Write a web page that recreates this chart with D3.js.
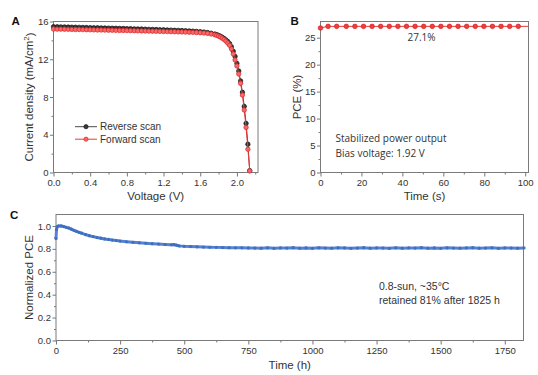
<!DOCTYPE html>
<html>
<head>
<meta charset="utf-8">
<script src="https://cdn.jsdelivr.net/npm/d3@7"></script>
<style>
  body { margin: 0; background: #fff; }
  svg { display: block; font-family: "Liberation Sans", Arial, sans-serif; }
  .tick text { fill: #333; font-size: 9.5px; }
  .tick line { stroke: #777; }
  .axis-title { fill: #333; font-size: 11.5px; }
  .panel-label { fill: #111; font-size: 11.5px; font-weight: bold; }
</style>
</head>
<body>
<div id="chart"></div>
<script>
// A: J-V curves
const voltage = [0.00,0.04,0.08,0.12,0.16,0.20,0.24,0.28,0.32,0.36,0.40,0.44,0.48,0.52,0.56,0.60,0.64,0.68,0.72,0.76,
  0.80,0.84,0.88,0.92,0.96,1.00,1.04,1.08,1.12,1.16,1.20,1.24,1.28,1.32,1.36,1.40,1.44,1.48,1.52,1.56,1.60,1.64,1.68,1.72,1.76,
  1.78,1.80,1.82,1.84,1.86,1.88,1.90,1.92,1.94,1.96,1.98,2.00,2.02,2.04,2.06,2.08,2.10,2.12,2.14];
const jReverse = [15.45,15.44,15.43,15.42,15.41,15.40,15.39,15.38,15.37,15.36,
  15.35,15.34,15.33,15.32,15.31,15.30,15.29,15.28,15.27,15.26,
  15.25,15.24,15.22,15.21,15.20,15.19,15.17,15.16,15.15,15.13,
  15.12,15.10,15.09,15.07,15.06,15.04,15.02,15.00,14.98,14.95,
  14.92,14.88,14.83,14.76,14.67,
  14.61,14.53,14.44,14.33,14.20,14.05,13.88,13.66,13.32,12.85,
  12.30,11.55,10.75,9.70,8.50,7.00,5.20,3.00,0.20];
const jForward = [15.20,15.19,15.19,15.18,15.17,15.16,15.15,15.15,15.14,15.13,
  15.12,15.11,15.10,15.10,15.09,15.08,15.07,15.06,15.05,15.05,
  15.04,15.03,15.02,15.01,15.00,14.99,14.98,14.97,14.96,14.95,
  14.94,14.93,14.92,14.91,14.90,14.89,14.88,14.86,14.85,14.83,
  14.81,14.78,14.74,14.68,14.59,
  14.53,14.45,14.35,14.23,14.09,13.92,13.72,13.48,13.10,12.57,
  11.93,11.29,10.44,9.45,8.21,6.62,4.78,2.47,0.17];
const scanNames = ["Reverse scan", "Forward scan"];

// B: stabilized power output
const spoTime = [0,3.7,7.9,12.6,16.8,21.0,25.2,29.4,33.6,37.8,42.0,46.2,50.4,54.6,58.8,63.0,67.2,71.4,75.6,79.8,84.0,88.2,92.4,96.6,101.6];
const spoPCE = [26.8,27.1,27.1,27.1,27.1,27.1,27.1,27.1,27.1,27.1,27.1,27.1,27.1,27.1,27.1,27.1,27.1,27.1,27.1,27.1,27.1,27.1,27.1,27.1,27.1];

// C: long-term operation
const agingTime = [0,2,5,10,20,30,40,50,60,70,80,90,100,115,130,145,160,175,190,205,
  220,235,250,275,300,325,350,375,400,425,450,460,470,480,500,525,550,575,600,625,
  650,675,700,725,750,775,800,825,850,875,900,925,950,975,1000,1025,1050,1075,1100,1125,
  1150,1175,1200,1225,1250,1275,1300,1325,1350,1375,1400,1425,1450,1475,1500,1525,1550,1575,1600,1625,
  1650,1675,1700,1725,1750,1775,1800,1825];
const agingPCE = [0.89,0.97,0.995,1.0,1.0,0.995,0.988,0.982,0.972,0.962,0.953,0.944,0.937,0.925,0.915,0.907,0.899,0.893,0.887,0.882,
  0.877,0.873,0.868,0.862,0.857,0.853,0.849,0.845,0.842,0.838,0.835,0.837,0.832,0.826,0.822,0.820,0.818,0.816,0.814,0.813,
  0.811,0.810,0.809,0.809,0.808,0.807,0.806,0.809,0.805,0.808,0.807,0.810,0.806,0.808,0.805,0.809,0.807,0.806,0.809,0.808,
  0.805,0.807,0.810,0.806,0.808,0.807,0.805,0.809,0.806,0.808,0.807,0.810,0.806,0.808,0.805,0.809,0.807,0.806,0.808,0.810,
  0.806,0.807,0.809,0.805,0.808,0.807,0.806,0.808];

const svg = d3.select("#chart").append("svg")
  .attr("width", 538)
  .attr("height", 375);

// draws frame + axes with major and minor ticks, returns scales
function makePanel(box, xDomain, yDomain, xMajor, xMinor, yMajor, yMinor, xFmt, yFmt) {
  const x = d3.scaleLinear().domain(xDomain).range([box.x0, box.x1]);
  const y = d3.scaleLinear().domain(yDomain).range([box.y1, box.y0]);

  const g = svg.append("g");
  g.append("g")
    .attr("transform", `translate(0,${box.y1})`)
    .call(d3.axisBottom(x).tickValues(xMinor).tickSize(2).tickFormat(""))
    .call(a => a.select(".domain").remove());
  g.append("g")
    .attr("transform", `translate(0,${box.y1})`)
    .call(d3.axisBottom(x).tickValues(xMajor).tickSize(4).tickPadding(2.5).tickFormat(xFmt))
    .call(a => a.select(".domain").remove());
  g.append("g")
    .attr("transform", `translate(${box.x0},0)`)
    .call(d3.axisLeft(y).tickValues(yMinor).tickSize(2).tickFormat(""))
    .call(a => a.select(".domain").remove());
  g.append("g")
    .attr("transform", `translate(${box.x0},0)`)
    .call(d3.axisLeft(y).tickValues(yMajor).tickSize(3.5).tickPadding(1.5).tickFormat(yFmt))
    .call(a => a.select(".domain").remove());

  g.append("rect")
    .attr("x", box.x0).attr("y", box.y0)
    .attr("width", box.x1 - box.x0).attr("height", box.y1 - box.y0)
    .attr("fill", "none").attr("stroke", "#7a7a7a").attr("stroke-width", 1);
  return { x, y, g };
}

// ---------- A ----------
const boxA = { x0: 53.5, x1: 258, y0: 21.5, y1: 172.5 };
const pA = makePanel(boxA, [0, 2.23], [0, 16],
  [0, 0.4, 0.8, 1.2, 1.6, 2.0], [0.2, 0.6, 1.0, 1.4, 1.8, 2.2],
  [0, 4, 8, 12, 16], [2, 6, 10, 14],
  d3.format(".1f"), d3.format("d"));

const jvSeries = [
  { name: scanNames[0], values: jReverse, line: "#4a4a4a", fill: "#3a3a3a", stroke: "#111" },
  { name: scanNames[1], values: jForward, line: "#e8393a", fill: "#f46a6a", stroke: "#dc2427" }
];
jvSeries.forEach(s => {
  const pts = voltage.map((v, i) => ({ v, j: s.values[i] }));
  pA.g.append("path")
    .datum(pts)
    .attr("fill", "none")
    .attr("stroke", s.line)
    .attr("stroke-width", 1)
    .attr("d", d3.line().x(d => pA.x(d.v)).y(d => pA.y(d.j)));
  pA.g.selectAll(null)
    .data(pts)
    .join("circle")
    .attr("cx", d => pA.x(d.v))
    .attr("cy", d => pA.y(d.j))
    .attr("r", 2.2)
    .attr("fill", s.fill)
    .attr("stroke", s.stroke)
    .attr("stroke-width", 0.7);
});

// legend
jvSeries.forEach((s, i) => {
  const ly = 126.7 + i * 12.5;
  pA.g.append("line")
    .attr("x1", 75).attr("x2", 97).attr("y1", ly).attr("y2", ly)
    .attr("stroke", s.line).attr("stroke-width", 1);
  pA.g.append("circle")
    .attr("cx", 86).attr("cy", ly).attr("r", 2.1)
    .attr("fill", s.fill).attr("stroke", s.stroke).attr("stroke-width", 0.7);
  pA.g.append("text")
    .attr("x", 100).attr("y", ly).attr("dy", "0.35em")
    .attr("fill", "#333").attr("font-size", "10px")
    .text(s.name);
});

svg.append("text").attr("class", "axis-title")
  .attr("x", (boxA.x0 + boxA.x1) / 2).attr("y", 199.5)
  .attr("text-anchor", "middle").text("Voltage (V)");
const yTitleA = svg.append("text").attr("class", "axis-title")
  .attr("transform", `translate(32.5,${(boxA.y0 + boxA.y1) / 2}) rotate(-90)`)
  .attr("text-anchor", "middle");
yTitleA.append("tspan").text("Current density (mA/cm");
yTitleA.append("tspan").attr("dy", "-0.4em").attr("font-size", "8px").text("2");
yTitleA.append("tspan").attr("dy", "0.4em").text(")");
svg.append("text").attr("class", "panel-label").attr("x", 11.5).attr("y", 25).text("A");

// ---------- B ----------
const boxB = { x0: 320.5, x1: 528.5, y0: 21.5, y1: 172.5 };
const pB = makePanel(boxB, [0, 101.6], [0, 28],
  [0, 20, 40, 60, 80, 100], [10, 30, 50, 70, 90],
  [0, 5, 10, 15, 20, 25], [2.5, 7.5, 12.5, 17.5, 22.5],
  d3.format("d"), d3.format("d"));

const spo = spoTime.map((t, i) => ({ t, p: spoPCE[i] }));
pB.g.append("path")
  .datum(spo)
  .attr("fill", "none")
  .attr("stroke", "#e8393a")
  .attr("stroke-width", 1)
  .attr("d", d3.line().x(d => pB.x(d.t)).y(d => pB.y(d.p)));
pB.g.selectAll(null)
  .data(spo.slice(0, spo.length - 1))
  .join("circle")
  .attr("cx", d => pB.x(d.t))
  .attr("cy", d => pB.y(d.p))
  .attr("r", 2.3)
  .attr("fill", "#ef3e3e")
  .attr("stroke", "#d81f22")
  .attr("stroke-width", 0.7);

pB.g.append("text")
  .attr("x", 421.5).attr("y", 37.5).attr("dy", "0.35em")
  .attr("text-anchor", "middle")
  .attr("fill", "#333").attr("font-size", "10px")
  .attr("font-family", "'Open Sans', sans-serif")
  .text("27.1%");
pB.g.append("text")
  .attr("x", 335.5).attr("y", 138.3).attr("dy", "0.35em")
  .attr("fill", "#333").attr("font-size", "10px")
  .attr("font-family", "'Open Sans', sans-serif")
  .text("Stabilized power output");
pB.g.append("text")
  .attr("x", 335.5).attr("y", 153.3).attr("dy", "0.35em")
  .attr("fill", "#333").attr("font-size", "10px")
  .attr("font-family", "'Open Sans', sans-serif")
  .text("Bias voltage: 1.92 V");

svg.append("text").attr("class", "axis-title")
  .attr("x", (boxB.x0 + boxB.x1) / 2).attr("y", 199.5)
  .attr("text-anchor", "middle").text("Time (s)");
svg.append("text").attr("class", "axis-title")
  .attr("transform", `translate(300.5,${(boxB.y0 + boxB.y1) / 2}) rotate(-90)`)
  .attr("text-anchor", "middle").text("PCE (%)");
svg.append("text").attr("class", "panel-label").attr("x", 290.5).attr("y", 25).text("B");

// ---------- C ----------
const boxC = { x0: 56, x1: 523.5, y0: 214.5, y1: 340.5 };
const pC = makePanel(boxC, [0, 1823], [0, 1.1],
  [0, 250, 500, 750, 1000, 1250, 1500, 1750], [125, 375, 625, 875, 1125, 1375, 1625],
  [0, 0.2, 0.4, 0.6, 0.8, 1.0], [0.1, 0.3, 0.5, 0.7, 0.9],
  d3.format("d"), d3.format(".1f"));

const aging = agingTime.map((t, i) => ({ t, p: agingPCE[i] }));
pC.g.append("path")
  .datum(aging)
  .attr("fill", "none")
  .attr("stroke", "#5682cf")
  .attr("stroke-width", 3)
  .attr("d", d3.line().x(d => pC.x(d.t)).y(d => pC.y(d.p)));
pC.g.selectAll(null)
  .data(aging)
  .join("circle")
  .attr("cx", d => pC.x(d.t))
  .attr("cy", d => pC.y(d.p))
  .attr("r", 1.6)
  .attr("fill", "#3f6fc2");

pC.g.append("text")
  .attr("x", 379).attr("y", 286).attr("dy", "0.35em")
  .attr("fill", "#333").attr("font-size", "10.5px")
  .text("0.8-sun, ~35°C");
pC.g.append("text")
  .attr("x", 379).attr("y", 300).attr("dy", "0.35em")
  .attr("fill", "#333").attr("font-size", "10.5px")
  .text("retained 81% after 1825 h");

svg.append("text").attr("class", "axis-title")
  .attr("x", (boxC.x0 + boxC.x1) / 2).attr("y", 369)
  .attr("text-anchor", "middle").text("Time (h)");
svg.append("text").attr("class", "axis-title")
  .attr("transform", `translate(32.5,${(boxC.y0 + boxC.y1) / 2}) rotate(-90)`)
  .attr("text-anchor", "middle").text("Normalized PCE");
svg.append("text").attr("class", "panel-label").attr("x", 10).attr("y", 218.5).text("C");
</script>
</body>
</html>
